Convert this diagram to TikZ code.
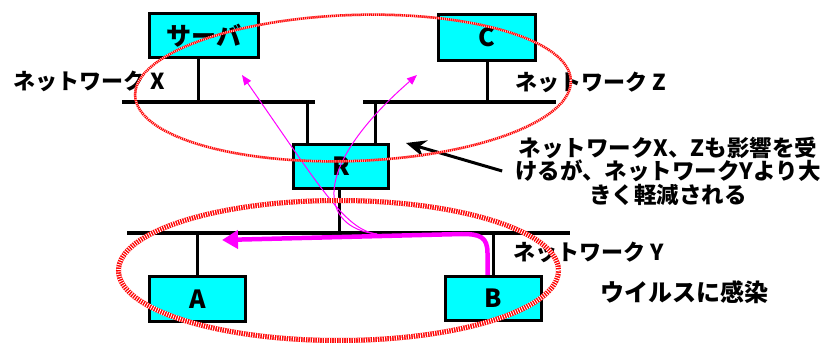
\documentclass[tikz,border=0pt]{standalone}
\usepackage{fontspec}
\setmainfont{Noto Sans CJK JP}
\usetikzlibrary{arrows.meta}
\definecolor{boxcyan}{RGB}{0,255,255}
\definecolor{virusmag}{RGB}{255,0,255}
\definecolor{ringred}{RGB}{255,0,0}
\tikzset{
  hostbox/.style={draw=black, fill=boxcyan, line width=3pt, inner sep=0pt, font=\bfseries\fontsize{25}{25}\selectfont},
  bus/.style={black, line width=3.5pt},
  stem/.style={black, line width=3pt},
  lbl/.style={inner sep=0pt, anchor=west, font=\bfseries\fontsize{22}{22}\selectfont},
  ringtop/.style={ringred, line width=2.5pt, postaction={draw=white, line width=2.5pt, dash pattern=on 0.45pt off 1.5pt}},
  ringbot/.style={ringred, line width=5pt, postaction={draw=white, line width=5pt, dash pattern=on 0.8pt off 1.6pt}},
  virus/.style={virusmag, line width=1pt, -{Triangle[length=10pt,width=8pt]}},
  spread/.style={virusmag, line width=4.5pt, -{Triangle[length=16pt,width=18pt]}},
}
\begin{document}
\begin{tikzpicture}[x=1pt,y=-1pt]
    \useasboundingbox (0,0) rectangle (830,344);

    \node[hostbox, minimum width=109pt, minimum height=44pt] (srv) at (204,35.5) {サーバ};
    \node[hostbox, minimum width=97pt, minimum height=46pt] (hostc) at (487,37.5) {C};
    \node[hostbox, minimum width=95pt, minimum height=44pt] (rtr) at (341,166.5) {R};
    \node[hostbox, minimum width=96pt, minimum height=45pt] (hosta) at (197.5,299) {A};
    \node[hostbox, minimum width=96pt, minimum height=44pt] (hostb) at (493.5,298.5) {B};

    \coordinate (xl) at (122,102);
    \coordinate (xr) at (315,102);
    \coordinate (zl) at (363,102);
    \coordinate (zr) at (556,102);
    \coordinate (yl) at (127,233);
    \coordinate (yr) at (570,233);
    \draw[bus] (xl) -- (xr);
    \draw[bus] (zl) -- (zr);
    \draw[bus] (yl) -- (yr);

    \coordinate (srvfoot) at (198,102);
    \coordinate (rx) at (307,102);
    \coordinate (rz) at (375,102);
    \coordinate (ry) at (339,233);
    \draw[stem] (srvfoot) -- (srvfoot |- srv.south);
    \draw[stem] (hostc.south) -- (hostc.south |- zl);
    \draw[stem] (rx) -- (rx |- rtr.north);
    \draw[stem] (rz) -- (rz |- rtr.north);
    \draw[stem] (ry) -- (ry |- rtr.south);
    \draw[stem] (hosta.north) -- (hosta.north |- yl);
    \draw[stem] (hostb.north) -- (hostb.north |- yr);

    \node[lbl] (labx) at (13,81) {ネットワーク X};
    \node[lbl] (labz) at (515,82) {ネットワーク Z};
    \node[lbl] (laby) at (513,252) {ネットワーク Y};
    \node[lbl, font=\bfseries\fontsize{24}{24}\selectfont] (labvirus) at (600,292) {ウイルスに感染};
    \node[align=center, inner sep=0pt, font=\bfseries\fontsize{22.5}{23.5}\selectfont] (labnote) at (668,171)
        {ネットワークX、Zも影響を受\\けるが、ネットワークYより大\\きく軽減される};

    % infection paths from B
    \coordinate (fork) at (377,234);
    \coordinate (tipx) at (242,75);
    \coordinate (tipz) at (417,75);
    \coordinate (virustip) at (222,240);
    \draw[spread] ([xshift=-6pt]hostb.north) -- ++(0,-22) .. controls +(0,-16) and +(18,0) .. (462,234) -- (virustip);
    \draw[virus] (fork) .. controls (345,230) and (320,187) .. (tipx);
    \draw[virus] (fork) .. controls (320,228) and (309,169) .. (tipz);

    \draw[line width=3pt, -{Stealth[length=20pt,width=17pt]}] ([xshift=-13pt]labnote.west) -- ([xshift=16pt]rtr.north east);

    \draw[ringtop] (353,88) ellipse [x radius=218, y radius=73, rotate=2];
    \draw[ringbot] (338.5,270.5) ellipse [x radius=220, y radius=70];
\end{tikzpicture}
\end{document}
